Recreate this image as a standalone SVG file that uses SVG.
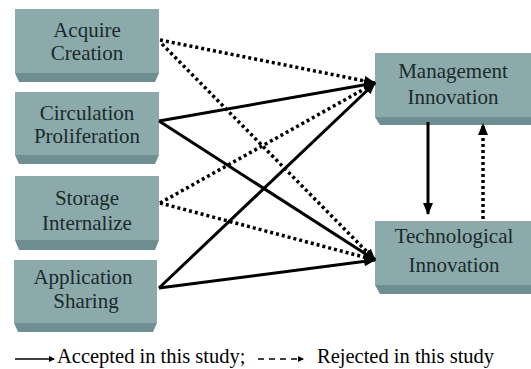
<svg xmlns="http://www.w3.org/2000/svg" width="531" height="369" viewBox="0 0 531 369">
<defs>
<marker id="ah" viewBox="0 0 12 10" refX="11" refY="5" markerWidth="12" markerHeight="10" markerUnits="userSpaceOnUse" orient="auto">
<path d="M0,0 L12,5 L0,10 Z" fill="#000"/>
</marker>
<marker id="ahs" viewBox="0 0 6 6" refX="5" refY="3" markerWidth="6" markerHeight="6" markerUnits="userSpaceOnUse" orient="auto">
<path d="M0,0 L6,3 L0,6 Z" fill="#000"/>
</marker>
</defs>
<style>
.face{fill:#8caaab;}
.bevel{fill:#6f8e91;}
.t{font-size:21px;fill:#1a2a2a;text-anchor:middle;}
.lg{font-size:20.5px;fill:#000;}
.s{stroke:#000;stroke-width:3;fill:none;marker-end:url(#ah);}
.d{stroke:#000;stroke-width:3.5;fill:none;stroke-dasharray:3 3;marker-end:url(#ah);}
</style>
<rect width="531" height="369" fill="#fff"/>
<g font-family="Liberation Serif, DejaVu Serif, serif">
<g id="acquire">
<polygon class="bevel" points="15,73 159,73 155,82 19,82"/>
<rect class="face" x="15" y="9" width="144" height="64"/>
<text class="t" x="87" y="37">Acquire</text>
<text class="t" x="87" y="60">Creation</text>
</g>
<g id="circulation">
<polygon class="bevel" points="15,155 159,155 155,164 19,164"/>
<rect class="face" x="15" y="92" width="144" height="63"/>
<text class="t" x="87" y="120">Circulation</text>
<text class="t" x="87" y="143">Proliferation</text>
</g>
<g id="storage">
<polygon class="bevel" points="15,240 159,240 155,250 19,250"/>
<rect class="face" x="15" y="176" width="144" height="64"/>
<text class="t" x="87" y="205">Storage</text>
<text class="t" x="87" y="230">Internalize</text>
</g>
<g id="application">
<polygon class="bevel" points="14,323 157,323 153,332 18,332"/>
<rect class="face" x="14" y="260" width="143" height="63"/>
<text class="t" x="83" y="284">Application</text>
<text class="t" x="86" y="308">Sharing</text>
</g>
<g id="management">
<polygon class="bevel" points="375,117 531,117 531,125 380,125"/>
<rect class="face" x="375" y="53" width="156" height="64"/>
<text class="t" x="453" y="78">Management</text>
<text class="t" x="453" y="104">Innovation</text>
</g>
<g id="technological">
<polygon class="bevel" points="375,285 531,285 531,294 380,294"/>
<rect class="face" x="375" y="221" width="156" height="64"/>
<text class="t" x="454" y="243">Technological</text>
<text class="t" x="454" y="272">Innovation</text>
</g>
<g id="connectors">
<line class="d" x1="160" y1="40" x2="375" y2="83"/>
<line class="d" x1="162" y1="44" x2="375" y2="260"/>
<line class="s" x1="159" y1="121" x2="375" y2="83"/>
<line class="s" x1="159" y1="121" x2="375" y2="260"/>
<line class="d" x1="160" y1="203" x2="375" y2="83"/>
<line class="d" x1="160" y1="203" x2="375" y2="260"/>
<line class="s" x1="159" y1="288" x2="375" y2="83"/>
<line class="s" x1="159" y1="288" x2="375" y2="260"/>
<line class="s" x1="428" y1="122" x2="428" y2="214"/>
<line class="d" x1="483" y1="219" x2="483" y2="124"/>
</g>
<g id="legend">
<line x1="15" y1="359" x2="54" y2="359" stroke="#000" stroke-width="1.5" marker-end="url(#ahs)"/>
<text class="lg" x="57" y="363">Accepted in this study;</text>
<line x1="258" y1="359" x2="303" y2="359" stroke="#000" stroke-width="1.5" stroke-dasharray="6 5" marker-end="url(#ahs)"/>
<text class="lg" x="317" y="363">Rejected in this study</text>
</g>
</g>
</svg>
